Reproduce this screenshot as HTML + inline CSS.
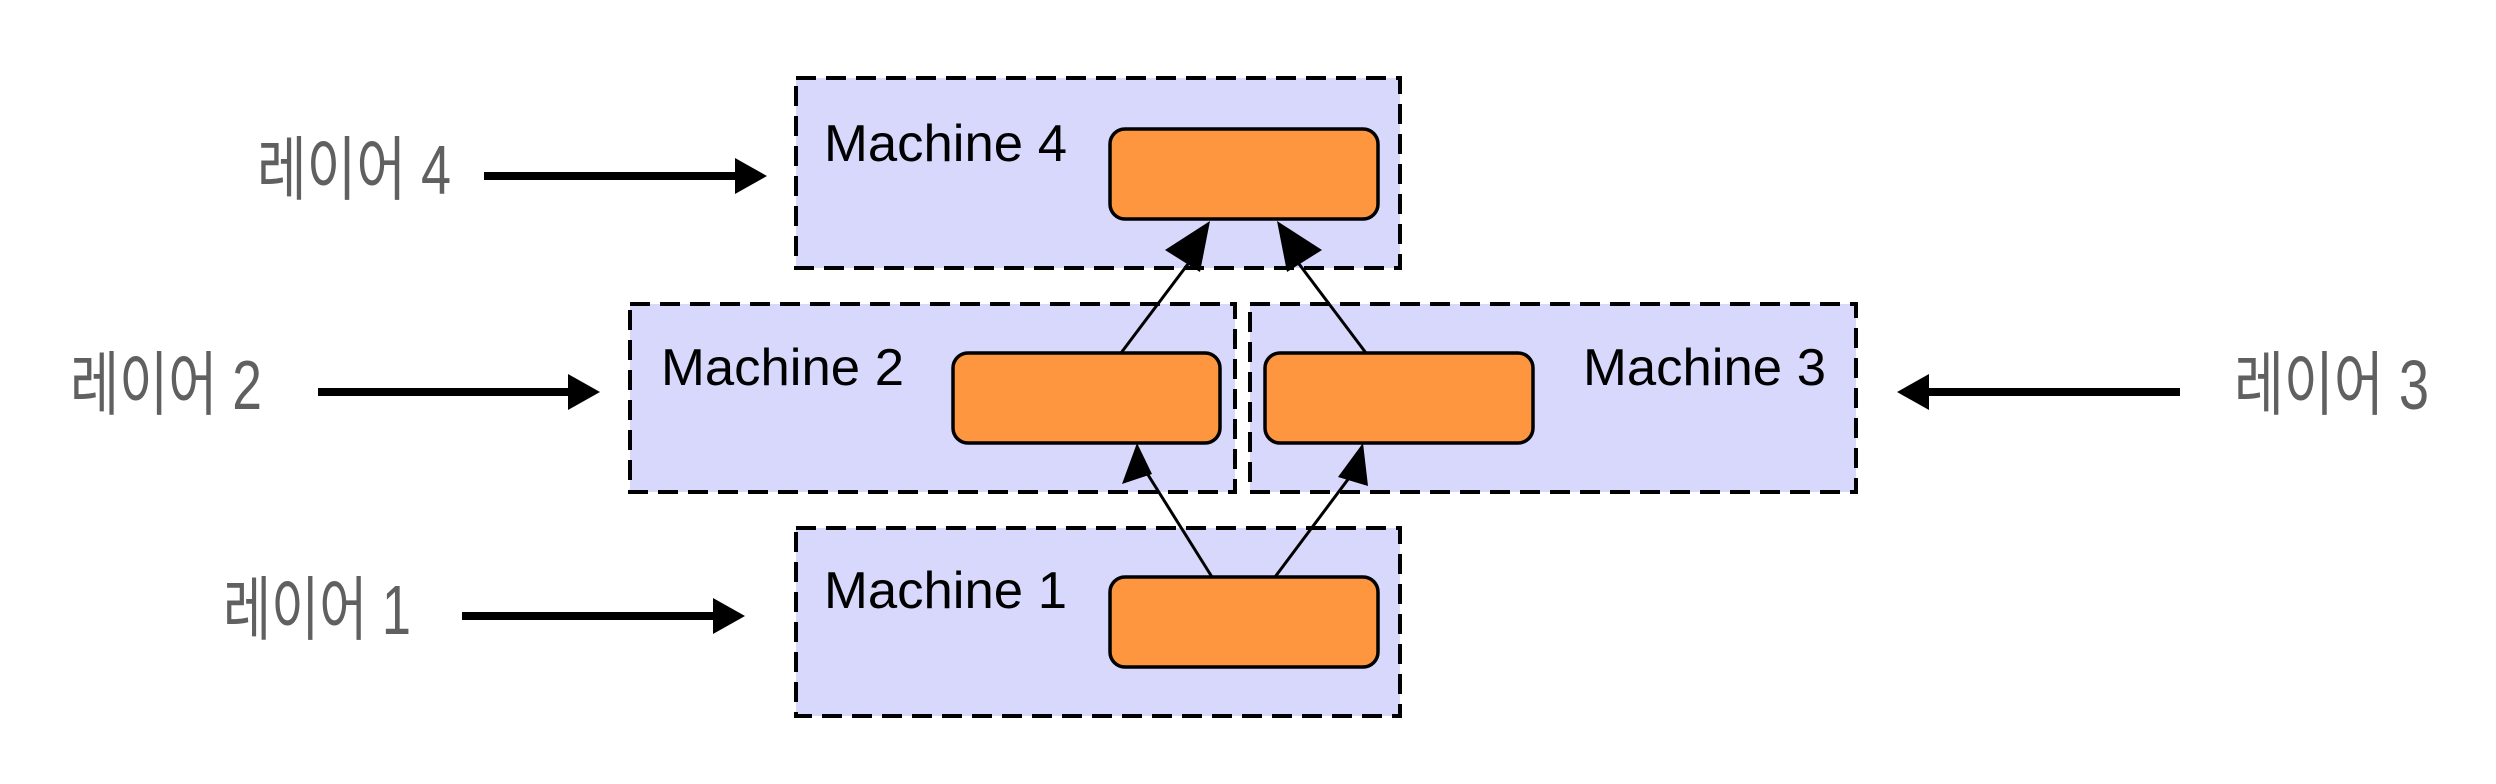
<!DOCTYPE html>
<html><head><meta charset="utf-8"><style>
html,body{margin:0;padding:0;background:#fff;}
svg{display:block}
.k{font-family:"Liberation Sans","Noto Sans CJK KR",sans-serif;font-size:70px;fill:#606060;}
.m{font-family:"Liberation Sans",sans-serif;font-size:52px;fill:#000;}
</style></head><body>
<svg width="2496" height="784" viewBox="0 0 2496 784" xmlns="http://www.w3.org/2000/svg">
<g fill="#d8d8fd" stroke="#000" stroke-width="4" stroke-dasharray="20 10">
<rect x="796" y="78" width="604" height="190"/>
<rect x="630" y="304" width="605" height="188"/>
<rect x="1250" y="304" width="606" height="188"/>
<rect x="796" y="528" width="604" height="188"/>
</g>
<g fill="#fd963f" stroke="#000" stroke-width="3.5">
<rect x="1110" y="129" width="268" height="90" rx="15"/>
<rect x="953" y="353" width="267" height="90" rx="15"/>
<rect x="1265" y="353" width="268" height="90" rx="15"/>
<rect x="1110" y="577" width="268" height="90" rx="15"/>
</g>
<text class="m" x="824" y="161" textLength="243" lengthAdjust="spacingAndGlyphs">Machine 4</text>
<text class="m" x="661" y="385" textLength="243" lengthAdjust="spacingAndGlyphs">Machine 2</text>
<text class="m" x="1583" y="385" textLength="243" lengthAdjust="spacingAndGlyphs">Machine 3</text>
<text class="m" x="824" y="608" textLength="243" lengthAdjust="spacingAndGlyphs">Machine 1</text>
<g stroke="#000" stroke-width="3">
<line x1="1212" y1="577" x2="1145" y2="470"/>
<line x1="1275" y1="577" x2="1355" y2="470"/>
<line x1="1121" y1="353" x2="1200" y2="248"/>
<line x1="1366" y1="353" x2="1287" y2="248"/>
</g>
<g fill="#000">
<polygon points="1137,443 1122,484 1152,474"/>
<polygon points="1363,443 1338,477 1368,486"/>
<polygon points="1210,221 1165,250 1200,272"/>
<polygon points="1277,221 1287,272 1322,250"/>
</g>
<g fill="#000">
<rect x="484" y="172" width="252" height="8"/><polygon points="767,176 735,158 735,194"/>
<rect x="318" y="388" width="252" height="8"/><polygon points="600,392 568,374 568,410"/>
<rect x="462" y="612" width="252" height="8"/><polygon points="745,616 713,598 713,634"/>
<rect x="1927" y="388" width="253" height="8"/><polygon points="1897,392 1929,374 1929,410"/>
</g>
<text class="k" x="257" y="194" textLength="194" lengthAdjust="spacingAndGlyphs">레이어 4</text>
<text class="k" x="70" y="409" textLength="192" lengthAdjust="spacingAndGlyphs">레이어 2</text>
<text class="k" x="223" y="634" textLength="188" lengthAdjust="spacingAndGlyphs">레이어 1</text>
<text class="k" x="2234" y="409" textLength="195" lengthAdjust="spacingAndGlyphs">레이어 3</text>
</svg>
</body></html>
